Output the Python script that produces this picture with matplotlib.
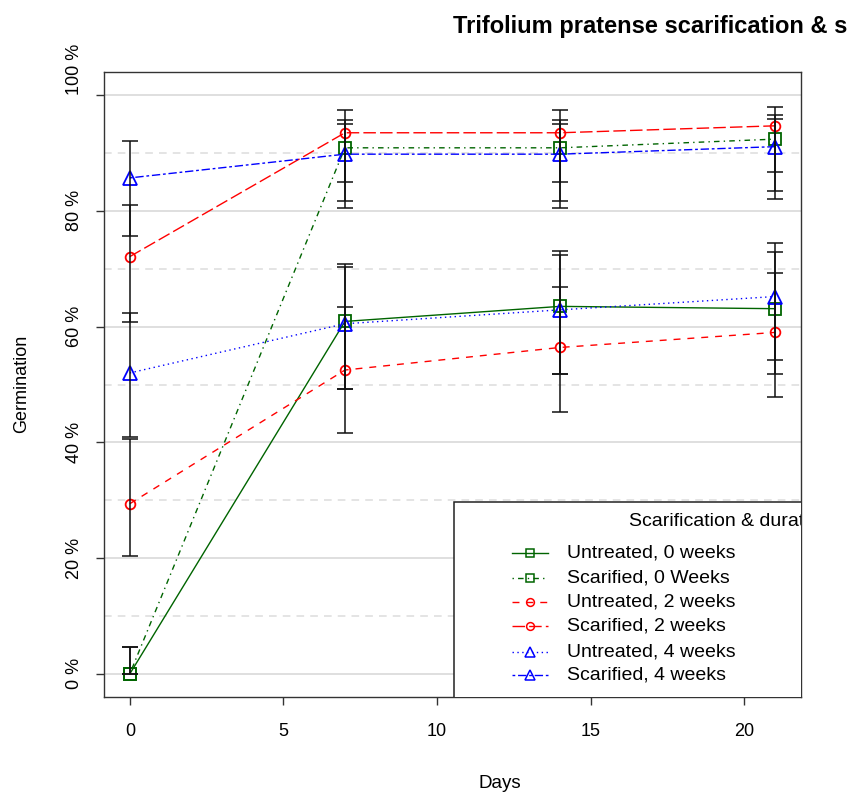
import matplotlib
matplotlib.use("Agg")
import matplotlib.pyplot as plt
from matplotlib.patches import Rectangle
from matplotlib.lines import Line2D

plt.rcParams['font.family'] = ['Liberation Sans', 'DejaVu Sans']

days = [0, 7, 14, 21]
series_names = ["Untreated, 0 weeks", "Scarified, 0 Weeks", "Untreated, 2 weeks",
                "Scarified, 2 weeks", "Untreated, 4 weeks", "Scarified, 4 weeks"]

untreated_0 = [0.0, 60.9, 63.5, 63.1]
untreated_0_lo = [0.0, 49.3, 51.8, 51.8]
untreated_0_hi = [4.7, 70.9, 73.1, 72.9]

scarified_0 = [0.0, 90.9, 90.9, 92.4]
scarified_0_lo = [0.0, 81.7, 81.7, 83.4]
scarified_0_hi = [4.7, 95.7, 95.7, 96.6]

untreated_2 = [29.4, 52.5, 56.4, 59.0]
untreated_2_lo = [20.4, 41.7, 45.2, 47.8]
untreated_2_hi = [40.5, 63.4, 66.8, 69.3]

scarified_2 = [72.1, 93.5, 93.5, 94.7]
scarified_2_lo = [60.8, 85.0, 85.0, 86.7]
scarified_2_hi = [81.0, 97.4, 97.4, 98.0]

untreated_4 = [52.0, 60.5, 62.9, 65.2]
untreated_4_lo = [41.0, 49.3, 51.8, 54.2]
untreated_4_hi = [62.4, 70.3, 72.3, 74.5]

scarified_4 = [85.7, 89.8, 89.8, 91.1]
scarified_4_lo = [75.7, 80.5, 80.5, 82.0]
scarified_4_hi = [92.0, 95.0, 95.0, 95.8]

yticks = [0, 20, 40, 60, 80, 100]
ytick_labels = ["0 %", "20 %", "40 %", "60 %", "80 %", "100 %"]
xticks = [0, 5, 10, 15, 20]

values = [untreated_0, scarified_0, untreated_2, scarified_2, untreated_4, scarified_4]
lows = [untreated_0_lo, scarified_0_lo, untreated_2_lo, scarified_2_lo, untreated_4_lo, scarified_4_lo]
highs = [untreated_0_hi, scarified_0_hi, untreated_2_hi, scarified_2_hi, untreated_4_hi, scarified_4_hi]

colors = ["#006400", "#006400", "#ff0000", "#ff0000", "#0000ff", "#0000ff"]
styles = ["-", (0, (1, 3, 4, 3)), (0, (5, 5)), (0, (9, 3)), (0, (1, 2.5)), (0, (2, 2, 6, 2))]
markers = ["s", "s", "o", "o", "^", "^"]
msizes = [8, 8, 7, 7, 9.5, 9.5]

fig = plt.figure(figsize=(8.56, 7.94), dpi=100)
ax = fig.add_axes([104/856, 1-697/794, 697/856, 625/794])
ax.set_xlim(-0.84, 21.84)
ax.set_ylim(-4, 104)

# grid
for v in yticks:
    ax.axhline(v, color="#dcdcdc", lw=1.3, zorder=0)
for v in [10, 30, 50, 70, 90]:
    ax.axhline(v, color="#dcdcdc", lw=1.1, ls=(0, (5, 4)), zorder=0)

for vals, c, ls, m, ms in zip(values, colors, styles, markers, msizes):
    ax.plot(days, vals, color=c, ls=ls, lw=1.0, marker=m, ms=ms, mfc="none",
            mec=c, mew=1.3, zorder=3)

for vals, lo, hi in zip(values, lows, highs):
    err = [[v - l for v, l in zip(vals, lo)], [h - v for v, h in zip(vals, hi)]]
    ax.errorbar(days, vals, yerr=err, fmt="none", ecolor="#111111", elinewidth=1.1,
                capsize=5.5, capthick=1.1, zorder=4)

ax.set_xticks(xticks)
ax.set_xticklabels([str(x) for x in xticks], fontsize=13)
ax.set_yticks(yticks)
ylabels = ax.set_yticklabels(ytick_labels, fontsize=13, rotation=90, va="center")
ylabels[-1].set_va("bottom")
ax.tick_params(axis="both", length=6, width=1, color="#333333", direction="out")
ax.tick_params(axis="y", pad=9)
ax.tick_params(axis="x", pad=13)
for s in ax.spines.values():
    s.set_color("#333333")
    s.set_linewidth(1.0)

fig.text(22/856, 1-384/794, "Germination", rotation=90, ha="center", va="center", fontsize=13)
fig.text(500/856, 1-784/794, "Days", ha="center", va="center", fontsize=13.5)
fig.text(453/856, 1-33/794, "Trifolium pratense scarification & s", ha="left", va="baseline",
         fontsize=17, fontweight="bold")

# legend (clipped to plot region like the original)
def axx(px):
    return (px - 104) / 697

def axy(py):
    return (697 - py) / 625

box = Rectangle((axx(454), -0.2), 0.7, axy(502) + 0.2, transform=ax.transAxes,
                facecolor="white", edgecolor="#222222", lw=1.1, zorder=5, clip_on=True)
ax.add_patch(box)
ax.text(axx(629), axy(522), "Scarification & duration", transform=ax.transAxes,
        ha="left", va="center", fontsize=14, zorder=6, clip_on=True)
entry_y = [553, 578, 602, 626, 652, 675]
for name, c, ls, m, ms, ey in zip(series_names, colors, styles, markers, msizes, entry_y):
    ax.add_line(Line2D([axx(512), axx(548)], [axy(ey), axy(ey)], transform=ax.transAxes,
                       color=c, ls=ls, lw=1.0, zorder=6))
    ax.add_line(Line2D([axx(530)], [axy(ey)], transform=ax.transAxes, marker=m,
                       ms=ms * 0.8, mfc="none", mec=c, mew=1.1, ls="none", zorder=6))
    ax.text(axx(567), axy(ey), name, transform=ax.transAxes, ha="left", va="center",
            fontsize=14, zorder=6, clip_on=True)

fig.savefig("out.png", dpi=100)
